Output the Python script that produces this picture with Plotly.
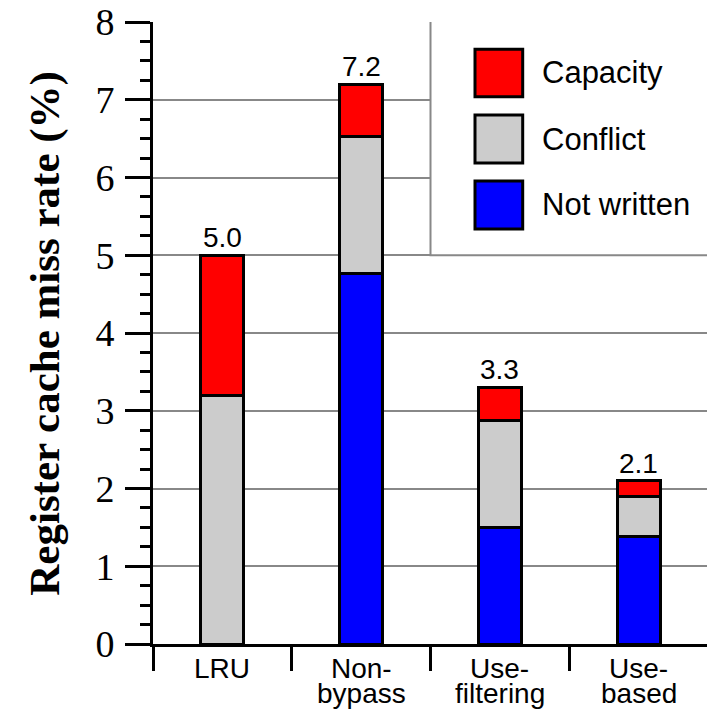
import plotly.graph_objects as go

categories = ["LRU", "Non-bypass", "Use-filtering", "Use-based"]
tick_line1 = ["LRU", "Non-", "Use-", "Use-"]
tick_line2 = ["", "bypass", "filtering", "based"]

not_written = [0.0, 4.76, 1.50, 1.38]
conflict = [3.19, 1.77, 1.38, 0.52]
capacity = [1.81, 0.67, 0.42, 0.20]

series_names = ["Capacity", "Conflict", "Not written"]
series_colors = {"Capacity": "#FF0000", "Conflict": "#CCCCCC", "Not written": "#0000FF"}

totals = [a + b + c for a, b, c in zip(not_written, conflict, capacity)]

# page offset (body margin) compensation
OFF = 8
W, H = 715, 711
PL, PR, PT, PB = 153, 708, 22, 644          # plot area in screen pixels
ML, MT = PL - OFF, PT - OFF
MR, MB = W - (PR - OFF), H - (PB - OFF)
PW, PH = PR - PL, PB - PT


def px(x):
    return (x - PL) / PW


def py(y):
    return (PB - y) / PH


fig = go.Figure()
for name, vals in [("Not written", not_written), ("Conflict", conflict), ("Capacity", capacity)]:
    fig.add_trace(go.Bar(
        x=categories, y=vals, name=name, width=0.31,
        marker=dict(color=series_colors[name], line=dict(color="black", width=3)),
        showlegend=False,
    ))

annotations = []
for cat, tot in zip(categories, totals):
    annotations.append(dict(
        x=cat, y=tot, xref="x", yref="y", text=f"{tot:.1f}", showarrow=False,
        yanchor="bottom", yshift=0,
        font=dict(family="Liberation Sans, Arial", size=28, color="black"),
    ))
for cat, l1, l2 in zip(categories, tick_line1, tick_line2):
    annotations.append(dict(
        x=cat, y=py(668), xref="x", yref="paper", text=l1, showarrow=False,
        yanchor="middle", font=dict(family="Liberation Sans, Arial", size=28, color="black"),
    ))
    if l2:
        annotations.append(dict(
            x=cat, y=py(693), xref="x", yref="paper", text=l2, showarrow=False,
            yanchor="middle", font=dict(family="Liberation Sans, Arial", size=28, color="black"),
        ))

# y axis title
annotations.append(dict(
    x=px(44.7), y=0.5, xref="paper", yref="paper", text="<b>Register cache miss rate (%)</b>",
    textangle=-90, showarrow=False, xanchor="center", yanchor="middle",
    font=dict(family="Liberation Serif, Times New Roman", size=43, color="black"),
))

shapes = [
    dict(type="rect", xref="x", yref="y", x0=1.5, x1=3.8, y0=5, y1=8.3,
         fillcolor="white", line=dict(color="#888888", width=2), layer="above"),
]

# custom legend
legend_rows = [(49.3, 96.7, 73), (115, 163, 139), (181, 229, 205)]
for name, (y0, y1, yc) in zip(series_names, legend_rows):
    shapes.append(dict(type="rect", xref="paper", yref="paper",
                       x0=px(475), x1=px(522.7), y0=py(y1), y1=py(y0),
                       fillcolor=series_colors[name], line=dict(color="black", width=3),
                       layer="above"))
    annotations.append(dict(
        x=px(540), y=py(yc), xref="paper", yref="paper", text=name, showarrow=False,
        xanchor="left", yanchor="middle",
        font=dict(family="Liberation Sans, Arial", size=31, color="black"),
    ))

fig.update_layout(
    width=W, height=H,
    margin=dict(l=ML, r=MR, t=MT, b=MB, autoexpand=False),
    barmode="stack",
    plot_bgcolor="white", paper_bgcolor="white",
    annotations=annotations, shapes=shapes,
    showlegend=False,
)
fig.update_xaxes(
    type="category", categoryorder="array", categoryarray=categories,
    range=[-0.5, 3.5], tickson="boundaries", automargin=False,
    ticks="outside", ticklen=24, tickwidth=3, tickcolor="black",
    showticklabels=False, showgrid=False,
    showline=True, linewidth=3, linecolor="black",
)
fig.update_yaxes(
    range=[0, 8], dtick=1, tick0=0, automargin=False,
    ticks="outside", ticklen=25, tickwidth=3, tickcolor="black",
    tickfont=dict(family="Liberation Serif, Times New Roman", size=38, color="black"),
    ticklabelstandoff=3, ticklabeloverflow="allow",
    showgrid=True, gridcolor="#888888", gridwidth=2,
    showline=True, linewidth=3, linecolor="black",
    zeroline=False,
    minor=dict(dtick=0.25, ticks="outside", ticklen=10, tickwidth=3, tickcolor="black", showgrid=False),
)

fig.write_html("out.html")
